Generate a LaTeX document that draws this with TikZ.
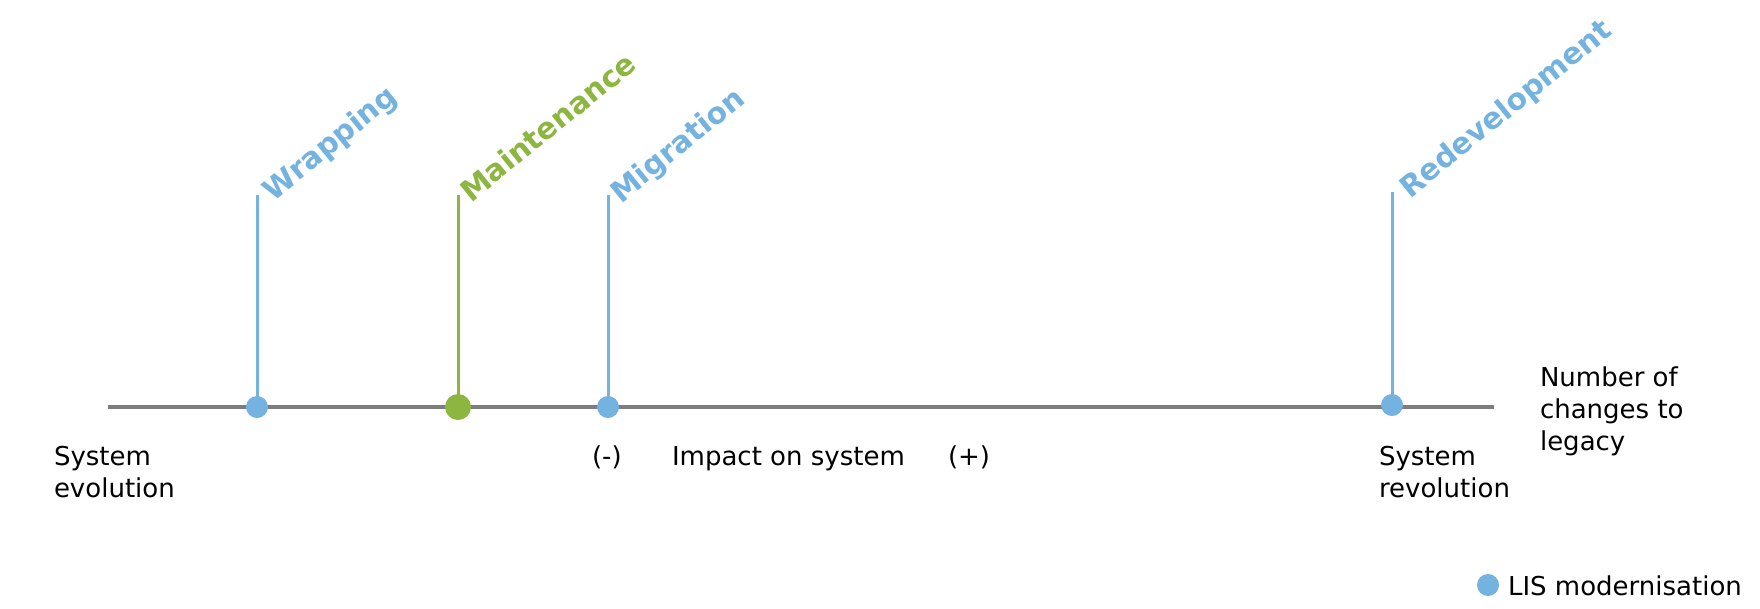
\documentclass[tikz,border=0pt]{standalone}
\usepackage{fontspec}
\setmainfont{DejaVu Sans}
\definecolor{lisblue}{RGB}{116,179,224}
\definecolor{mgreen}{RGB}{141,182,64}
\definecolor{axisgray}{RGB}{125,125,128}
\begin{document}
\begin{tikzpicture}[x=1pt,y=-1pt,
  txt/.style={inner sep=0pt,outer sep=0pt,font=\fontsize{26}{31.7}\selectfont,text=black},
  lbl/.style={inner sep=0pt,outer sep=0pt,font=\fontsize{29.7}{34}\selectfont\bfseries,rotate=39,anchor=base west},
  bdot/.style={circle,fill=lisblue,inner sep=0pt,minimum size=22pt},
  gdot/.style={circle,fill=mgreen,inner sep=0pt,minimum size=26pt},
  stem/.style={line width=3pt},
]
\useasboundingbox (0,0) rectangle (1760,608);
% axis
\coordinate (axL) at (108,407);
\coordinate (axR) at (1494,407);
\draw[axisgray,line width=3.2pt] (axL) -- (axR);
% stems
\coordinate (wt) at (257,195);
\coordinate (mt) at (458,195);
\coordinate (gt) at (608,195);
\coordinate (rt) at (1392,192);
\node[bdot] (wd) at (257,407) {};
\node[gdot] (md) at (458,407) {};
\node[bdot] (gd) at (608,407) {};
\node[bdot] (rd) at (1392,405) {};
\draw[stem,lisblue] (wd.center) -- (wt);
\draw[stem,mgreen] (md.center) -- (mt);
\draw[stem,lisblue] (gd.center) -- (gt);
\draw[stem,lisblue] (rd.center) -- (rt);
% rotated labels
\node[lbl,text=lisblue] (wl) at (273,202) {Wrapping};
\node[lbl,text=mgreen] (ml) at (471,203) {Maintenance};
\node[lbl,text=lisblue] (gl) at (621,204) {Migration};
\node[lbl,text=lisblue] (rl) at (1410,199) {Redevelopment};
% bottom texts (base = baseline of last line)
\node[txt,anchor=base west,align=left] (se) at (54,497) {System\\evolution};
\node[txt,anchor=base west] (minus) at (592,465) {(-)};
\node[txt,anchor=base west] (imp) at (672,465) {Impact on system};
\node[txt,anchor=base west] (plus) at (948,465) {(+)};
\node[txt,anchor=base west,align=left] (sr) at (1379,497) {System\\revolution};
\node[txt,anchor=base west,align=left] (num) at (1540,450) {Number of\\changes to\\legacy};
% legend
\node[bdot] (ld) at (1488,585) {};
\node[txt,anchor=base west] (lt) at (1508,595) {LIS modernisation};
\end{tikzpicture}
\end{document}
